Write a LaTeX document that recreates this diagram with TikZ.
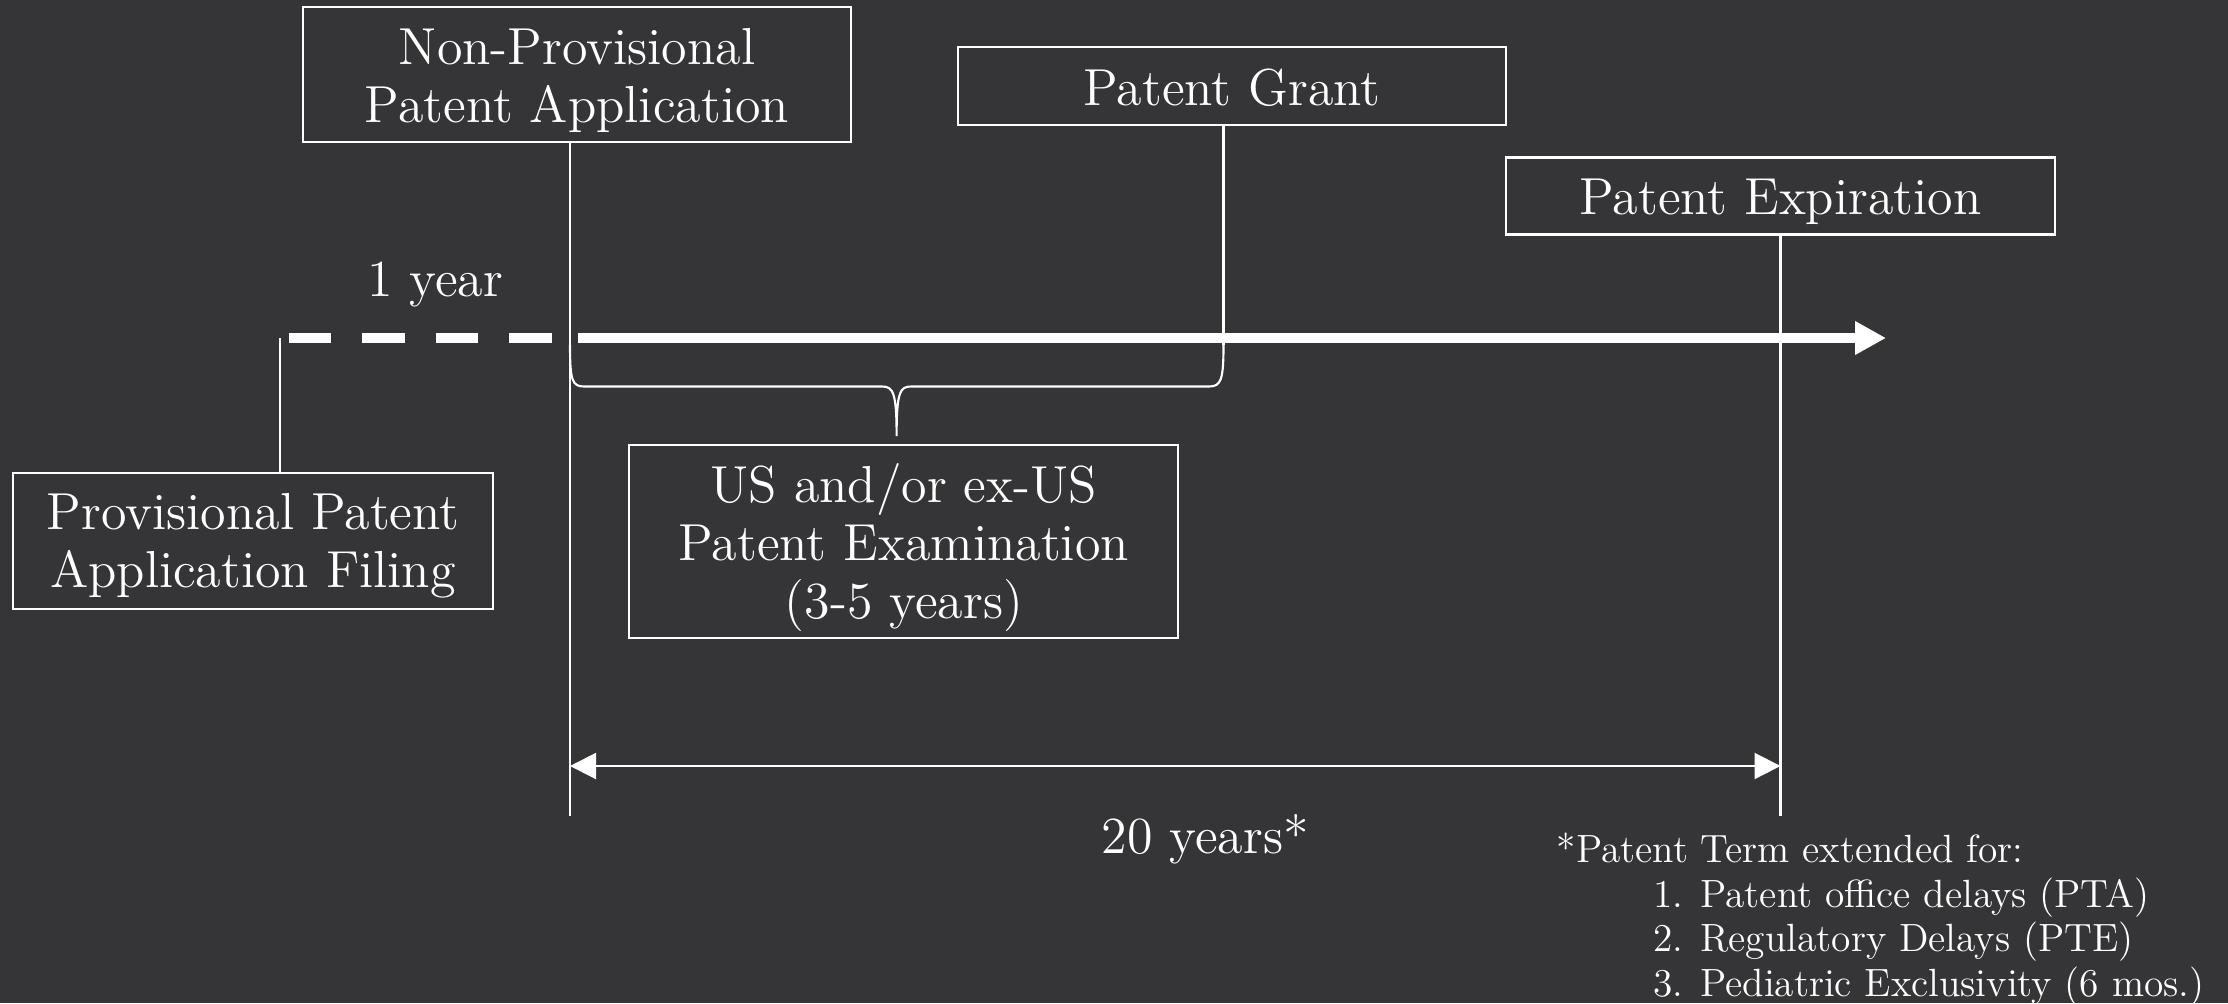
\documentclass[tikz,border=0pt]{standalone}
\usetikzlibrary{arrows.meta}
\definecolor{bg}{RGB}{53,53,55}
\begin{document}
\begin{tikzpicture}[x=0.01cm,y=-0.01cm,
 frame/.style={draw=white, line width=0.6pt, minimum width=5.485cm, inner sep=0pt},
 boxtext/.style={text=white, align=center, font=\fontsize{14.8}{16.5}\selectfont, inner sep=0pt},
 ln/.style={draw=white, line width=0.6pt},
 lbl/.style={text=white, font=\fontsize{14.8}{16.5}\selectfont, inner sep=0pt},
 note/.style={text=white, font=\fontsize{11.2}{12.7}\selectfont, inner sep=0pt, anchor=base west},
 dblarrow/.style={{Triangle[length=7.4pt,width=7.4pt]}-{Triangle[length=7.4pt,width=7.4pt]}}]
\fill[bg] (0,0) rectangle (2228,1003);
\useasboundingbox (0,0) rectangle (2228,1003);

% frames
\node[frame, minimum height=1.35cm] (np) at (577,74.5) {};
\node[frame, minimum height=0.78cm] (pg) at (1232,86) {};
\node[frame, minimum height=0.77cm] (pe) at (1780.5,196) {};
\node[frame, minimum width=4.8cm, minimum height=1.366cm] (pp) at (253,541) {};
\node[frame, minimum height=1.93cm] (ex) at (903.8,541.4) {};

% texts inside frames
\node[boxtext] (npt) at ([yshift=-0.06cm]np.center) {Non-Provisional\\Patent Application};
\node[boxtext] (pgt) at ([yshift=-0.015cm]pg.center) {Patent Grant};
\node[boxtext] (pet) at ([yshift=-0.055cm]pe.center) {Patent Expiration};
\node[boxtext] (ppt0) at ([yshift=-0.05cm]pp.center) {Provisional Patent\\Application Filing};
\node[boxtext] (ext) at ([yshift=-0.06cm]ex.center) {US and/or ex-US\\Patent Examination\\(3-5 years)};

\coordinate (d0) at (288.5,338);
\coordinate (d1) at (552,338);
\coordinate (s0) at (578,338);
\coordinate (s1) at (1886,338);
\coordinate (npb) at (570,815.7);
\coordinate (peb) at (1780.5,815.7);
\coordinate (pgb) at (1223.5,345);
\coordinate (ppt) at (280,338);
\coordinate (ya) at (570,766);
\coordinate (yb) at (1780.5,766);

\draw[ln] (np.south -| npb) -- (npb);
\draw[ln] (pe.south -| peb) -- (peb);
\draw[ln] (pg.south -| pgb) -- (pgb);
\draw[ln] (pp.north -| ppt) -- (ppt);

\draw[white, line width=3pt, dash pattern=on 12.1pt off 8.8pt] (d0) -- (d1);
\draw[white, line width=3pt, -{Triangle[length=8.8pt,width=9pt]}] (s0) -- (s1);

\draw[ln] (570,345) .. controls (570,380) and (572,386.5) .. (584,386.5) -- (882,386.5)
  .. controls (893,386.5) and (896.6,392) .. (896.6,436)
  .. controls (896.6,392) and (900,386.5) .. (911,386.5) -- (1209,386.5)
  .. controls (1221,386.5) and (1223.5,380) .. (1223.5,345);

\draw[ln, dblarrow] (ya) -- (yb);

\node[lbl] (yr) at (435,284) {1 year};
\node[lbl] (tw) at (1205,839) {20 years*};

\node[note] (n0) at (1556,862.7) {*Patent Term extended for:};
\node[note] (n1) at (1652.6,907) {1. Patent office delays (PTA)};
\node[note] (n2) at (1652.6,951.7) {2. Regulatory Delays (PTE)};
\node[note] (n3) at (1652.6,996.7) {3. Pediatric Exclusivity (6 mos.)};
\end{tikzpicture}
\end{document}
